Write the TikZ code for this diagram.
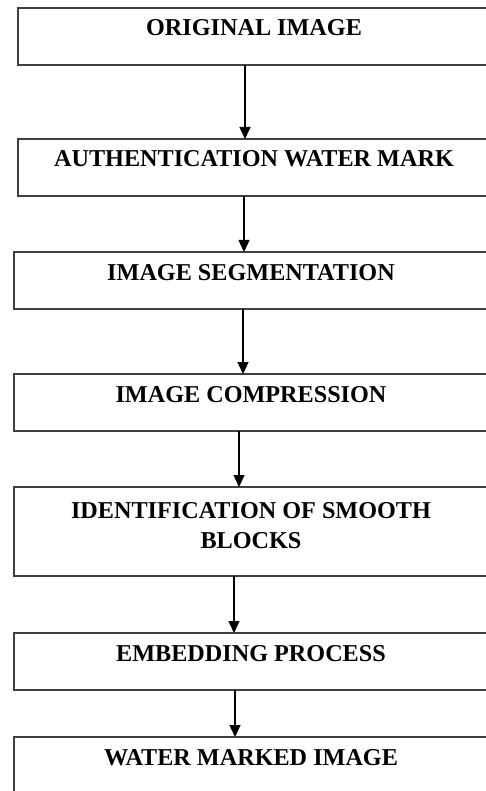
\documentclass[tikz,border=0pt]{standalone}
\usepackage{fontspec}
\setmainfont{Liberation Serif}
\usetikzlibrary{arrows.meta,positioning}

\begin{document}
\begin{tikzpicture}[
                            ->,
                            >={Triangle[length=12pt,width=11pt]},
                            line width=1.3pt,
                            node distance=56pt
                        ]
                        \tikzstyle{every node}=[font=\bfseries\fontsize{24.2pt}{30pt}\selectfont]
                        \tikzstyle{block}=[rectangle,draw=black!75,line width=1.9pt,outer sep=0pt,minimum width=474pt,inner xsep=0pt,inner ysep=0pt,text height=28pt,text depth=29pt,align=center]

                        \useasboundingbox (0,0) rectangle (486pt,-791pt);

                        \node[block,minimum width=472pt,anchor=north] (orig) at (254pt,-8pt) {ORIGINAL IMAGE};
                        \node[block,minimum width=472pt] (auth)   [below=74pt of orig] {AUTHENTICATION WATER MARK};
                        \node[block]                     (seg)    [below=56pt of auth,xshift=-3pt] {IMAGE SEGMENTATION};
                        \node[block]                     (comp)   [below=65pt of seg] {IMAGE COMPRESSION};
                        \node[block,text height=61pt,text depth=28pt] (smooth) [below=56pt of comp] {IDENTIFICATION OF SMOOTH\\BLOCKS};
                        \node[block]                     (embed)  [below=57pt of smooth] {EMBEDDING PROCESS};
                        \node[block]                     (marked) [below=47pt of embed] {WATER MARKED IMAGE};

                        \path
                        ([xshift=-9pt]orig.south)    edge ([xshift=-9pt]orig.south |- auth.north)
                        ([xshift=-10pt]auth.south)   edge ([xshift=-10pt]auth.south |- seg.north)
                        ([xshift=-8pt]seg.south)     edge ([xshift=-8pt]seg.south |- comp.north)
                        ([xshift=-12pt]comp.south)   edge ([xshift=-12pt]comp.south |- smooth.north)
                        ([xshift=-17pt]smooth.south) edge ([xshift=-17pt]smooth.south |- embed.north)
                        ([xshift=-16pt]embed.south)  edge ([xshift=-16pt]embed.south |- marked.north)
                        ;
                    \end{tikzpicture}
\end{document}
